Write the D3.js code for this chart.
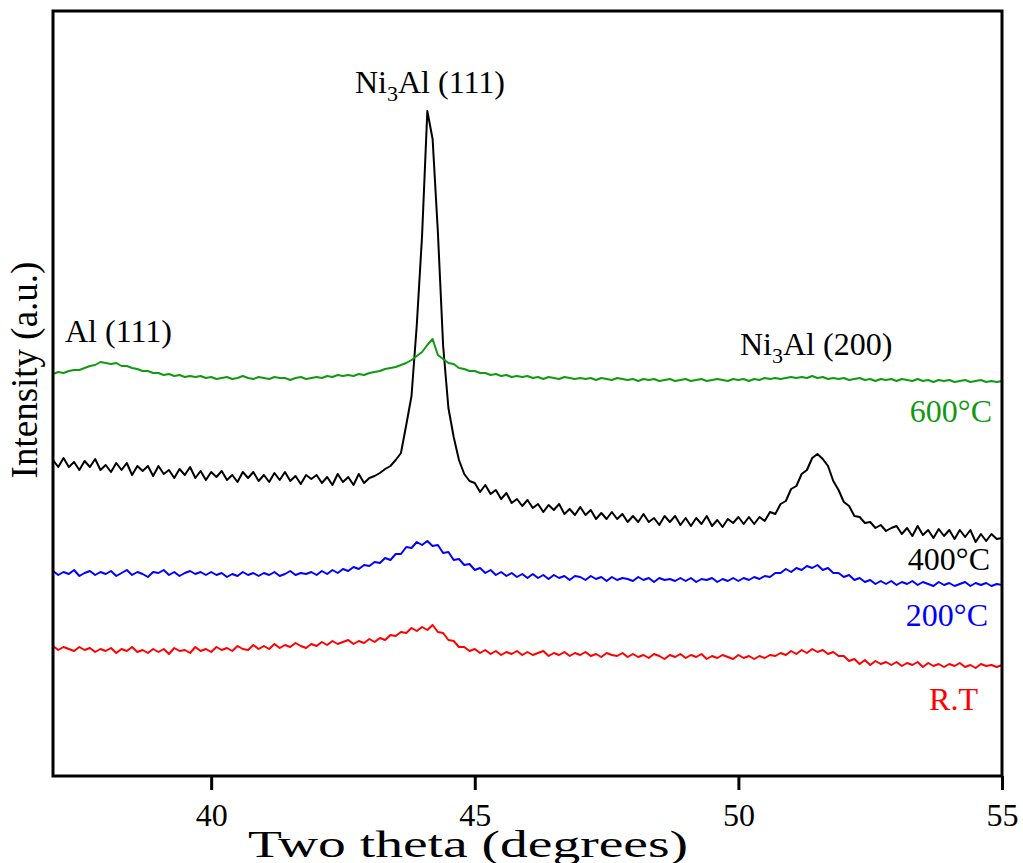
<!DOCTYPE html>
<html>
<head>
<meta charset="utf-8">
<script src="https://cdn.jsdelivr.net/npm/d3@7"></script>
<style>
  body { margin: 0; background: #fff; }
  text { font-family: "Liberation Serif", "Times New Roman", serif; }
</style>
</head>
<body>
<div id="chart"></div>
<script>
// two theta grid, 37.0 .. 55.0 in 0.1 degree steps
var twoTheta = d3.range(370, 551).map(function (d) { return d / 10; });

// intensities (a.u., offset already applied)
var rt = [
  130,126,129,127,125,129,126,128,124,127,
  125,128,123,127,125,129,124,126,123,127,
  124,127,122,128,125,126,123,129,125,127,
  124,129,126,128,125,130,127,126,131,127,
  130,127,132,128,131,129,133,130,128,132,
  130,134,131,135,132,134,136,132,135,133,
  137,134,138,136,141,140,144,143,148,145,
  149,146,151,144,143,136,135,129,129,125,
  127,123,126,122,125,121,124,122,125,121,
  124,121,123,125,120,123,121,124,120,123,
  121,124,120,122,119,123,121,120,123,119,
  122,119,121,118,122,120,117,121,119,122,
  118,121,119,122,117,120,118,121,119,117,
  121,118,120,117,120,118,121,120,123,121,
  125,122,126,123,127,124,126,122,124,120,
  120,115,117,112,116,111,115,112,114,111,
  114,110,113,111,114,109,113,110,112,109,
  112,110,113,109,111,108,112,110,111,109,
  111
];
var t200 = [
  205,201,204,202,206,200,203,205,201,204,
  202,205,200,203,206,201,204,202,199,204,
  203,206,201,204,200,203,205,202,204,201,
  204,201,203,199,202,200,204,201,203,200,
  203,201,204,200,202,205,201,203,202,204,
  201,205,202,206,203,207,205,209,207,211,
  210,214,213,218,216,222,222,229,228,234,
  231,235,230,231,223,224,216,217,211,212,
  206,208,203,206,201,204,200,203,199,202,
  198,202,198,201,197,201,198,200,196,200,
  199,196,200,197,199,195,199,196,198,197,
  195,199,196,198,194,198,196,197,195,198,
  195,198,194,197,196,198,194,197,195,198,
  195,198,196,199,197,200,199,203,203,207,
  204,208,206,210,208,211,206,208,203,203,
  199,201,196,198,194,196,192,195,192,195,
  191,194,192,195,191,194,192,190,194,191,
  193,190,192,194,190,193,191,193,190,192,
  191
];
var t400 = [
  316,309,318,309,314,306,315,309,317,306,
  311,304,313,306,313,301,310,305,310,300,
  310,302,306,298,307,301,309,298,305,296,
  304,299,305,296,301,294,304,298,304,295,
  301,294,303,296,304,295,300,292,301,297,
  301,293,299,291,302,294,299,291,302,293,
  298,300,303,307,310,316,323,351,380,451,
  540,665,637,544,430,368,339,316,302,295,
  293,284,291,282,286,277,283,273,277,270,
  276,268,272,264,271,266,272,262,267,261,
  269,261,266,257,263,257,264,257,262,254,
  260,254,262,254,258,251,260,254,260,251,
  258,250,258,252,260,250,256,249,257,253,
  259,252,259,252,259,255,264,262,272,275,
  287,290,302,306,318,322,317,310,295,286,
  274,270,260,259,253,254,248,251,245,248,
  250,242,248,240,250,241,246,238,247,240,
  246,237,246,239,246,234,242,235,242,237,
  238
];
var t600 = [
  402,404,403,405,406,406,408,410,411,414,
  413,412,413,410,410,408,407,405,405,403,
  403,401,402,400,401,399,400,399,400,398,
  399,397,398,399,397,398,400,398,397,399,
  398,397,399,398,398,396,398,399,397,398,
  399,398,400,399,401,400,401,400,402,401,
  403,404,405,407,408,409,411,413,416,420,
  424,431,437,421,417,413,412,408,407,405,
  405,403,403,401,402,400,401,399,400,399,
  400,398,399,397,399,398,397,399,398,397,
  398,397,398,396,398,397,396,398,397,396,
  397,395,397,396,397,395,396,397,395,396,
  397,395,396,397,395,396,397,396,395,397,
  396,397,395,397,396,398,397,398,397,398,
  399,398,399,398,400,398,399,397,398,397,
  398,396,397,398,396,397,395,397,396,397,
  395,397,396,395,397,395,396,394,396,395,
  396,394,395,396,394,395,396,394,395,394,
  395
];

var seriesNames = ["R.T", "200°C", "400°C", "600°C"];
var seriesColors = ["#ff0000", "#0000ff", "#000000", "#119911"];
var seriesValues = [rt, t200, t400, t600];
var xTicks = [40, 45, 50, 55];

var width = 1023, height = 863;
var margin = { left: 53, top: 11, right: 21, bottom: 87 };
var plotW = width - margin.left - margin.right;
var plotH = height - margin.top - margin.bottom;

var svg = d3.select("#chart").append("svg").attr("width", width).attr("height", height);
var plot = svg.append("g").attr("transform", "translate(" + margin.left + "," + margin.top + ")");

var xScale = d3.scaleLinear().domain([37, 55]).range([0, plotW]);
var yScale = d3.scaleLinear().domain([0, 765]).range([plotH, 0]);

// curves
var line = d3.line()
    .x(function (d) { return xScale(d[0]); })
    .y(function (d) { return yScale(d[1]); });

seriesValues.forEach(function (vals, i) {
    var pts = twoTheta.map(function (t, j) { return [t, vals[j]]; });
    plot.append("path")
        .datum(pts)
        .attr("fill", "none")
        .attr("stroke", seriesColors[i])
        .attr("stroke-width", 2)
        .attr("stroke-linejoin", "round")
        .attr("d", line);
});

// x axis
var xAxis = d3.axisBottom(xScale).tickValues(xTicks).tickSize(14).tickSizeOuter(0).tickPadding(13);
var gx = plot.append("g").attr("transform", "translate(0," + plotH + ")").call(xAxis);
gx.select(".domain").remove();
gx.selectAll(".tick line").attr("stroke", "#000").attr("stroke-width", 3);
gx.selectAll(".tick text").style("font-size", "32px").style("font-family", "'Liberation Serif', serif").attr("fill", "#000");

// frame
plot.append("rect")
    .attr("x", 0).attr("y", 0).attr("width", plotW).attr("height", plotH)
    .attr("fill", "none").attr("stroke", "#000").attr("stroke-width", 3);

// axis titles
svg.append("text").text("Two theta (degrees)")
    .attr("x", 468).attr("y", 857).attr("text-anchor", "middle").style("font-size", "38px")
    .attr("textLength", 440).attr("lengthAdjust", "spacingAndGlyphs");
svg.append("text").text("Intensity (a.u.)")
    .attr("transform", "translate(37,370) rotate(-90)").attr("text-anchor", "middle").style("font-size", "37px");

// peak labels
function subLabel(x, y, pre, sub, post) {
    var t = svg.append("text").attr("x", x).attr("y", y).style("font-size", "32px").attr("fill", "#000");
    t.append("tspan").text(pre);
    t.append("tspan").text(sub).style("font-size", "22px").attr("dy", 8);
    t.append("tspan").text(post).attr("dy", -8);
}
subLabel(355, 93, "Ni", "3", "Al (111)");
subLabel(740, 355, "Ni", "3", "Al (200)");
svg.append("text").text("Al (111)").attr("x", 65).attr("y", 342).style("font-size", "32px");

// temperature labels
var labelPos = [[978, 710], [988, 626], [990, 570], [992, 422]];
seriesNames.forEach(function (n, i) {
    svg.append("text").text(n)
        .attr("x", labelPos[i][0]).attr("y", labelPos[i][1])
        .attr("text-anchor", "end").attr("fill", seriesColors[i])
        .style("font-size", "32px");
});
</script>
</body>
</html>
